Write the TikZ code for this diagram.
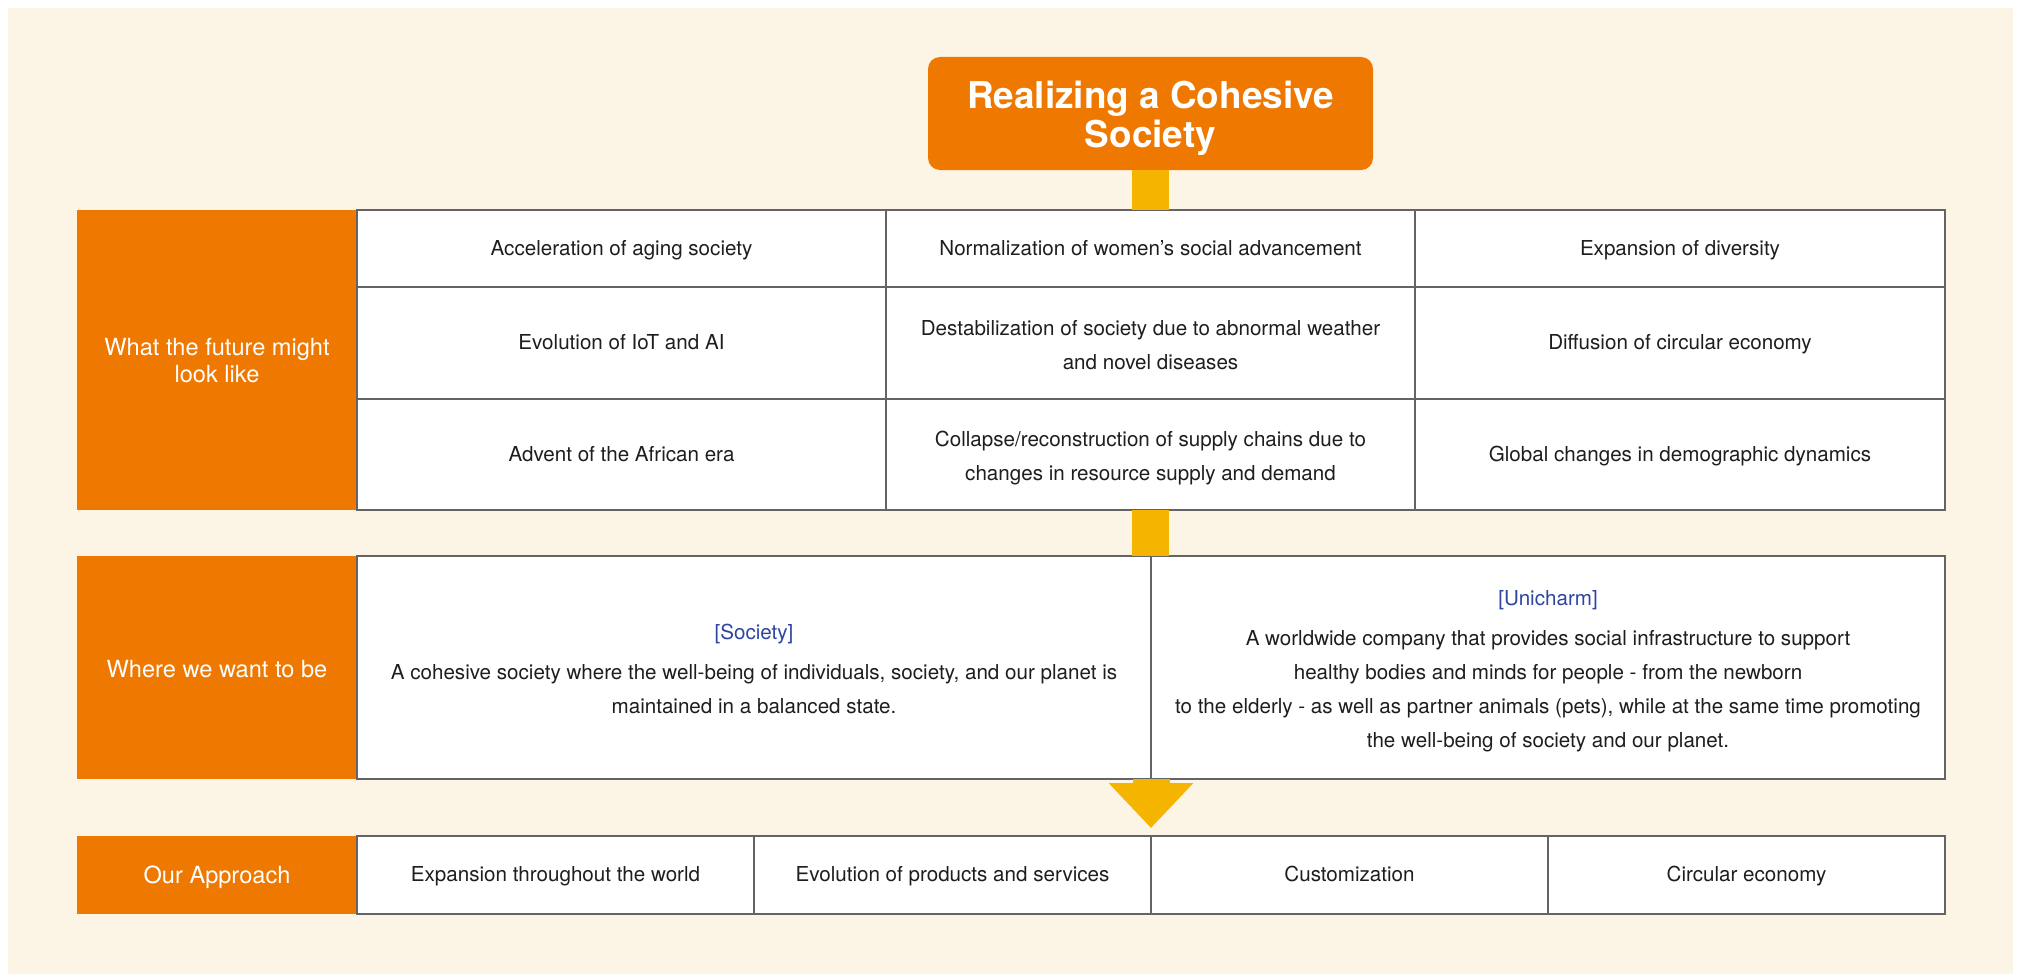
\documentclass[tikz,border=0pt]{standalone}
\usepackage{fontspec}
\setmainfont{TeX Gyre Heros}
\usepackage{xcolor}
\usepackage{tikz}
\usetikzlibrary{
    arrows.meta,
    positioning,
    calc
}
\definecolor{ucorange}{HTML}{EE7800}
\definecolor{ucyellow}{HTML}{F5B400}
\definecolor{ucbeige}{HTML}{FCF5E6}
\definecolor{ucblue}{HTML}{2E46A0}
\definecolor{ucline}{HTML}{646464}
\definecolor{uctext}{HTML}{1E1E1E}
\tikzset{
    % Title box
    titlebox/.style={
        rectangle,
        rounded corners=6pt,
        fill=ucorange,
        text=white,
        font=\fontsize{18.45}{19.5}\selectfont\bfseries,
        minimum width=222.5pt,
        minimum height=56.5pt,
        align=center,
        inner sep=2pt
    },
    % Row header
    labelbox/.style={
        rectangle,
        fill=ucorange,
        text=white,
        font=\fontsize{11.8}{13.5}\selectfont,
        minimum width=140pt,
        align=center,
        outer sep=0pt,
        inner sep=2pt
    },
    % Table cell
    cellbox/.style={
        rectangle,
        draw=ucline,
        line width=0.6pt,
        fill=white,
        text=uctext,
        font=\fontsize{10.3}{17}\selectfont,
        align=center,
        execute at end node=\strut,
        outer sep=0pt,
        inner sep=2pt
    },
    % Yellow link bar
    linkbar/.style={
        draw=ucyellow,
        line width=18.5pt
    },
    % Yellow arrow
    linkarrow/.style={
        linkbar,
        -{Triangle[width=41pt,length=22.5pt]}
    }
}

\begin{document}
\begin{tikzpicture}[
    x=0.5pt, y=-0.5pt,
    node distance=0pt
]

    \useasboundingbox (0,0) rectangle (2022,974);
    \fill[ucbeige] (8,8) rectangle (2013,974);

    % Title
    \node[titlebox] (title) at (1150.5,113.5) {\rule{0pt}{19pt}Realizing a Cohesive\\Society};

    % What the future might look like
    \node[labelbox, minimum height=150pt, anchor=north west] (futurelbl) at (77,210)
        {\rule{0pt}{9.6pt}What the future might\\look like};
    \node[cellbox, minimum width=264.5pt, minimum height=38.5pt, anchor=north west]
        (f11) at (futurelbl.north east) {Acceleration of aging society};
    \node[cellbox, minimum width=264.5pt, minimum height=38.5pt, right=of f11]
        (f12) {Normalization of women’s social advancement};
    \node[cellbox, minimum width=265pt, minimum height=38.5pt, right=of f12]
        (f13) {Expansion of diversity};
    \node[cellbox, minimum width=264.5pt, minimum height=56pt, below=of f11]
        (f21) {Evolution of IoT and AI};
    \node[cellbox, minimum width=264.5pt, minimum height=56pt, right=of f21]
        (f22) {\rule{0pt}{14.5pt}Destabilization of society due to abnormal weather\\and novel diseases};
    \node[cellbox, minimum width=265pt, minimum height=56pt, right=of f22]
        (f23) {Diffusion of circular economy};
    \node[cellbox, minimum width=264.5pt, minimum height=55.5pt, below=of f21]
        (f31) {Advent of the African era};
    \node[cellbox, minimum width=264.5pt, minimum height=55.5pt, right=of f31]
        (f32) {\rule{0pt}{14.5pt}Collapse/reconstruction of supply chains due to\\changes in resource supply and demand};
    \node[cellbox, minimum width=265pt, minimum height=55.5pt, right=of f32]
        (f33) {Global changes in demographic dynamics};

    % Where we want to be
    \node[labelbox, minimum height=111.5pt, anchor=north west] (wherelbl) at (77,556)
        {\rule{0pt}{10pt}Where we want to be};
    \node[cellbox, minimum width=397pt, minimum height=111.5pt, anchor=north west]
        (w1) at (wherelbl.north east)
        {\rule{0pt}{14.5pt}{\color{ucblue}[Society]}\\[3pt]
         A cohesive society where the well-being of individuals, society, and our planet is\\
         maintained in a balanced state.};
    \node[cellbox, minimum width=397pt, minimum height=111.5pt, right=of w1]
        (w2) {\rule{0pt}{14.5pt}{\color{ucblue}[Unicharm]}\\[3pt]
         A worldwide company that provides social infrastructure to support\\
         healthy bodies and minds for people - from the newborn\\
         to the elderly - as well as partner animals (pets), while at the same time promoting\\
         the well-being of society and our planet.};

    % Our Approach
    \node[labelbox, minimum height=39pt, anchor=north west] (approachlbl) at (77,836)
        {\rule{0pt}{11pt}Our Approach};
    \node[cellbox, minimum width=198.5pt, minimum height=39pt, anchor=north west]
        (a1) at (approachlbl.north east) {Expansion throughout the world};
    \node[cellbox, minimum width=198.5pt, minimum height=39pt, right=of a1]
        (a2) {Evolution of products and services};
    \node[cellbox, minimum width=198.5pt, minimum height=39pt, right=of a2]
        (a3) {Customization};
    \node[cellbox, minimum width=198.5pt, minimum height=39pt, right=of a3]
        (a4) {Circular economy};

    % Yellow links
    \draw[linkbar] (title.south) -- (title.south |- f12.north);
    \draw[linkbar] (f32.south) -- (f32.south |- w1.north);
    \coordinate (tip) at ([yshift=-24.5pt]w1.south east);
    \draw[linkarrow] (w1.south east) -- (tip);

\end{tikzpicture}
\end{document}
